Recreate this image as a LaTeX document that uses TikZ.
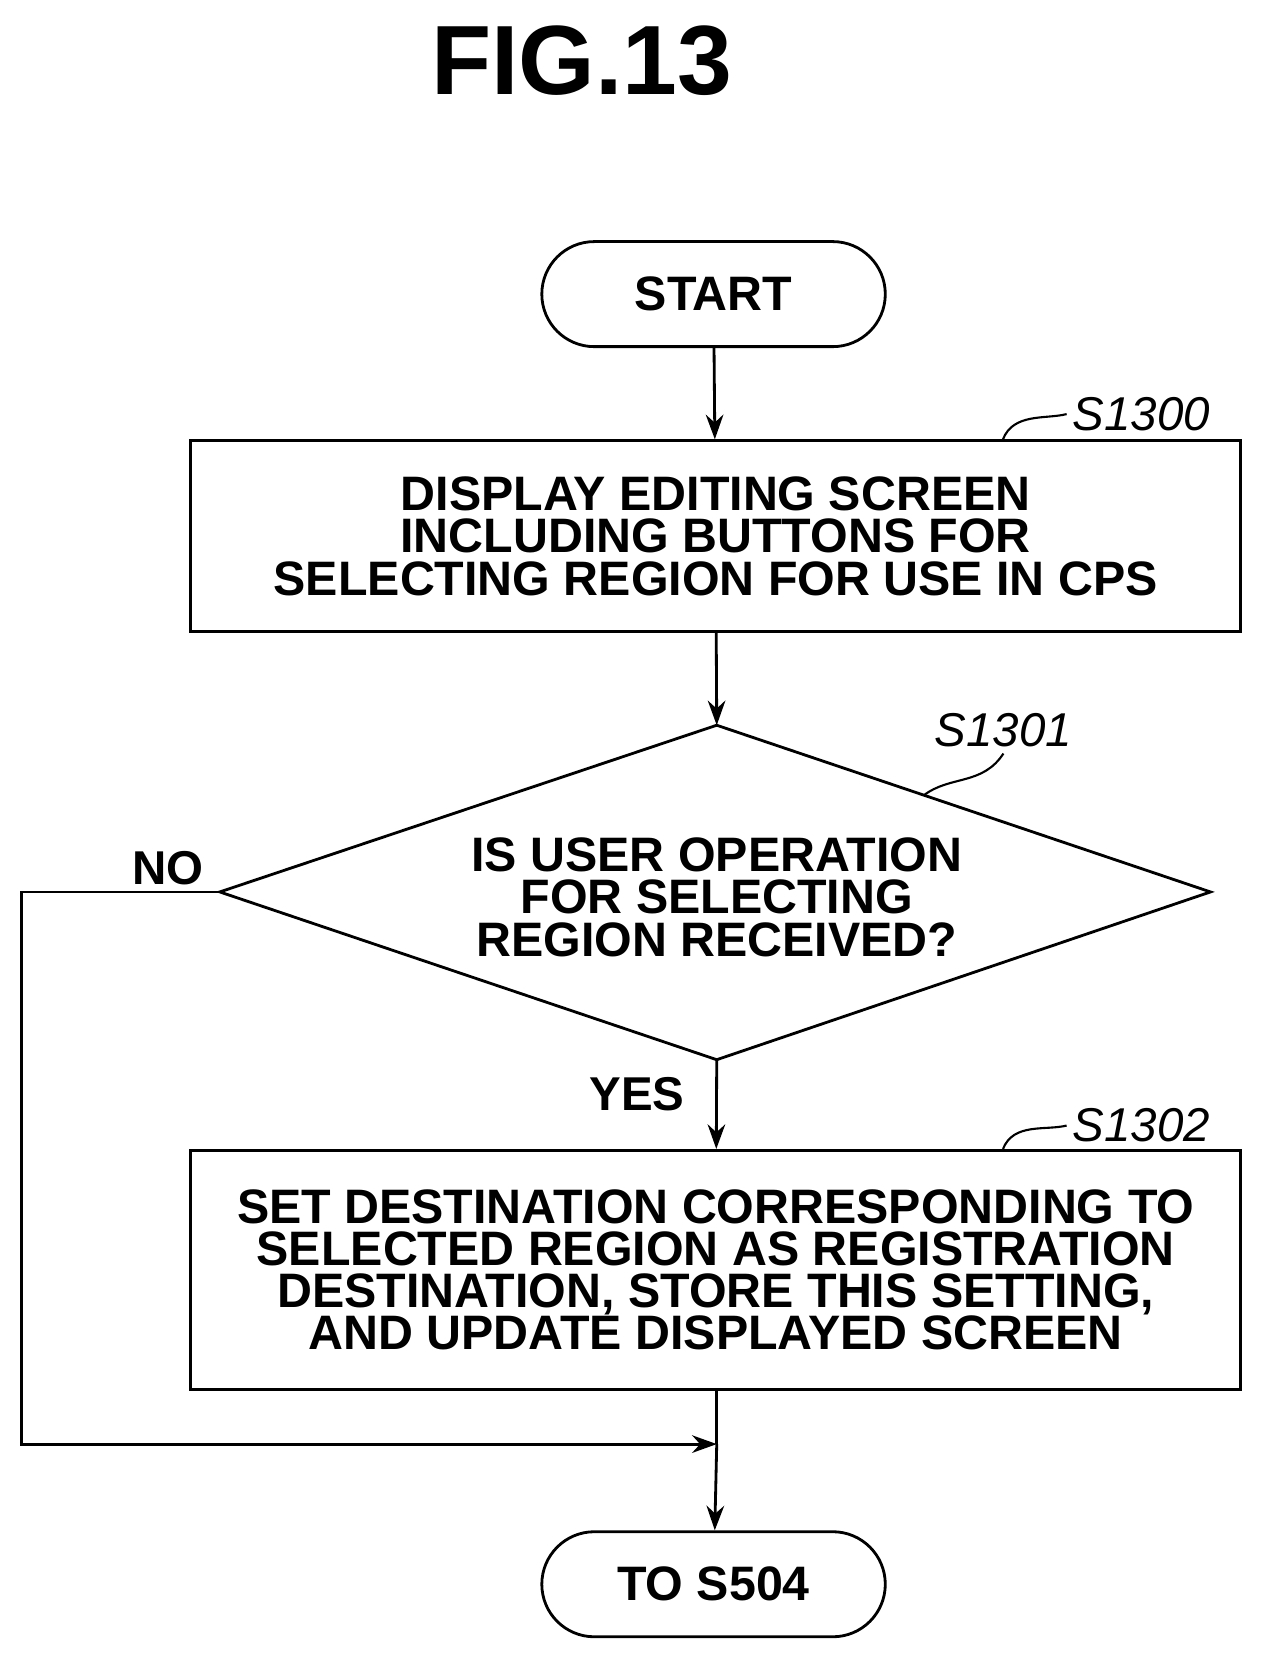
\documentclass[tikz,border=0pt]{standalone}
\usepackage{fontspec}
\setmainfont{Liberation Sans}
\usetikzlibrary{shapes.geometric,shapes.misc,arrows.meta}
\tikzset{
  stepbox/.style={draw,line width=1.6pt,font=\fontsize{27.5}{24}\selectfont\bfseries,align=center},
  term/.style={stepbox,rounded rectangle,minimum width=7.1cm,minimum height=2.1cm},
  tag/.style={font=\fontsize{27}{27}\selectfont\itshape},
  flow/.style={line width=1.6pt,-{Stealth[length=14pt,width=10pt]}}
}
\begin{document}
\begin{tikzpicture}[x=0.02123cm,y=-0.02123cm]
    \useasboundingbox (0,0) rectangle (1189,1569);
    % Titel
    \node (fig) at (548,57) {\fontsize{56}{56}\selectfont\bfseries FIG.13};

    % Knoten
    \node[term] (start) at (672,277) {START};
    \node[stepbox,minimum width=20.98cm,minimum height=3.82cm] (s1300) at (674,505)
        {DISPLAY EDITING SCREEN\\INCLUDING BUTTONS FOR\\SELECTING REGION FOR USE IN CPS};
    \coordinate (dt) at (675,683);
    \coordinate (db) at (675,998);
    \coordinate (dl) at (207,840);
    \coordinate (dr) at (1140,840);
    \draw[line width=1.6pt] (dt) -- (dr) -- (db) -- (dl) -- cycle;
    \node[font=\fontsize{27.5}{24}\selectfont\bfseries,align=center] (q) at (675,845)
        {IS USER OPERATION\\FOR SELECTING\\REGION RECEIVED?};
    \node[stepbox,minimum width=20.98cm,minimum height=4.78cm] (s1302) at (674,1196)
        {SET DESTINATION CORRESPONDING TO\\SELECTED REGION AS REGISTRATION\\DESTINATION, STORE THIS SETTING,\\AND UPDATE DISPLAYED SCREEN};
    \node[term] (end) at (672,1492) {TO S504};

    % Bezeichnungen
    \node[tag] (t1300) at (1075,390) {S1300};
    \node[tag] (t1301) at (945,688) {S1301};
    \node[tag] (t1302) at (1075,1060) {S1302};
    \draw[line width=1.2pt] (s1300.north east) ++(-225,0) .. controls +(10,-25) and +(-20,5) .. (t1300.west);
    \draw[line width=1.2pt] (s1302.north east) ++(-225,0) .. controls +(10,-25) and +(-20,5) .. (t1302.west);
    \coordinate (e1301) at (870,749);
    \draw[line width=1.2pt] (e1301) .. controls (895,730) and (925,740) .. (t1301.south);

    \node[font=\fontsize{27}{27}\selectfont\bfseries] (no) at (158,818) {NO};
    \node[font=\fontsize{27}{27}\selectfont\bfseries] (yes) at (600,1030) {YES};

    % Pfeile
    \coordinate (m) at (675,1360);
    \draw[flow] (start) -- (s1300);
    \draw[flow] (s1300) -- (dt);
    \draw[flow] (db) -- (s1302);
    \draw[line width=1.6pt] (s1302.south -| m) -- (m);
    \draw[flow] (m) -- (end);
    \draw[flow] (dl) -- (20,840) -- (20,1360) -- (m);
\end{tikzpicture}
\end{document}
